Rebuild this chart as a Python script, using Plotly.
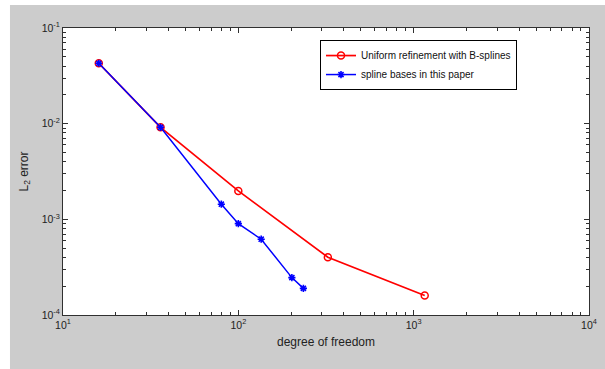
import plotly.graph_objects as go

# Data
dof_uniform = [16, 36, 100, 324, 1156]
err_uniform = [0.0428, 0.00916, 0.00198, 0.000402, 0.000160]

dof_spline = [16, 36, 80, 100, 135, 202, 235]
err_spline = [0.0428, 0.00916, 0.00144, 0.000901, 0.000620, 0.000246, 0.000190]

x_major = [10, 100, 1000, 10000]
x_major_text = ["10<sup>1</sup>", "10<sup>2</sup>", "10<sup>3</sup>", "10<sup>4</sup>"]
y_major = [1e-4, 1e-3, 1e-2, 1e-1]
y_major_text = ["10<sup>-4</sup>", "10<sup>-3</sup>", "10<sup>-2</sup>", "10<sup>-1</sup>"]

x_minor = [m * d for d in (10, 100, 1000) for m in range(2, 10)]
y_minor = [m * d for d in (1e-4, 1e-3, 1e-2) for m in range(2, 10)]

FONT = "Liberation Sans, Arial, sans-serif"

fig = go.Figure()
fig.add_trace(go.Scatter(
    x=dof_uniform, y=err_uniform, mode="lines+markers",
    name="Uniform refinement with B-splines",
    line=dict(color="#ff0000", width=1.7),
    marker=dict(symbol="circle-open", size=7, color="#ff0000", line=dict(width=1.5)),
))
fig.add_trace(go.Scatter(
    x=dof_spline, y=err_spline, mode="lines+markers",
    name="spline bases in this paper",
    line=dict(color="#0000ff", width=1.5),
    marker=dict(symbol="asterisk-open", size=6, color="#0000ff", line=dict(width=1.6, color="#0000ff")),
))

axis_common = dict(
    type="log", showgrid=False, zeroline=False,
    showline=True, linecolor="#303030", linewidth=1, mirror="ticks",
    ticks="inside", ticklen=5, tickcolor="#303030", tickwidth=1,
    tickfont=dict(family=FONT, size=10.5, color="#222222"),
)

fig.update_xaxes(
    **axis_common,
    range=[1, 4], tickmode="array", tickvals=x_major, ticktext=x_major_text,
    minor=dict(ticks="inside", ticklen=3, tickcolor="#303030", tickmode="array", tickvals=x_minor),
    title=dict(text="degree of freedom", font=dict(family=FONT, size=12, color="#222222"), standoff=8),
)
fig.update_yaxes(
    **axis_common,
    range=[-4, -1], tickmode="array", tickvals=y_major, ticktext=y_major_text,
    minor=dict(ticks="inside", ticklen=3, tickcolor="#303030", tickmode="array", tickvals=y_minor),
    title=dict(text="L<sub>2</sub> error", font=dict(family=FONT, size=12, color="#222222"), standoff=10),
)

fig.update_layout(
    width=605, height=369,
    margin=dict(l=63, r=16, t=28, b=54, autoexpand=False),
    paper_bgcolor="#cccccc", plot_bgcolor="#ffffff",
    showlegend=True,
    legend=dict(
        x=0.4886, y=0.958, xanchor="left", yanchor="top",
        bgcolor="#ffffff", bordercolor="#000000", borderwidth=1,
        font=dict(family=FONT, size=10, color="#111111"),
        tracegroupgap=0, itemwidth=30,
    ),
    shapes=[
        dict(type="rect", xref="paper", yref="paper", x0=-0.3, x1=1.2, y0=1.0801, y1=1.3,
             fillcolor="#ffffff", line=dict(width=0), layer="above"),
        dict(type="rect", xref="paper", yref="paper", x0=-0.3, x1=-0.1008, y0=-0.4, y1=1.3,
             fillcolor="#ffffff", line=dict(width=0), layer="above"),
    ],
)

fig.write_html(
    "out.html",
    config={"displayModeBar": False},
    post_script="document.body.style.margin='0px';document.body.style.overflow='hidden';",
)
